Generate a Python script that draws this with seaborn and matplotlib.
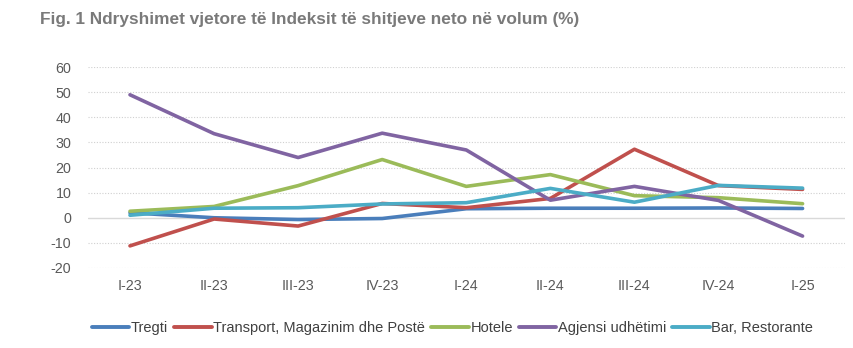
import matplotlib
matplotlib.use("Agg")
import matplotlib.pyplot as plt
import seaborn as sns
import pandas as pd
from matplotlib.lines import Line2D

quarters = ["I-23", "II-23", "III-23", "IV-23", "I-24", "II-24", "III-24", "IV-24", "I-25"]
tregti = [2.0, 0.0, -0.7, -0.3, 3.6, 3.8, 3.8, 3.9, 3.7]
transport = [-11.2, -0.5, -3.3, 5.7, 4.0, 7.7, 27.3, 12.8, 11.3]
hotele = [2.6, 4.5, 12.8, 23.2, 12.5, 17.2, 8.8, 8.0, 5.6]
agjensi = [49.0, 33.5, 24.0, 33.7, 27.0, 7.0, 12.5, 6.9, -7.3]
bar = [1.0, 3.8, 4.0, 5.5, 6.0, 11.7, 6.2, 12.9, 11.8]

names = ["Tregti", "Transport, Magazinim dhe Postë", "Hotele", "Agjensi udhëtimi", "Bar, Restorante"]
series = [tregti, transport, hotele, agjensi, bar]
colors = ["#4a7ebb", "#c0504d", "#9bbb59", "#8064a2", "#4bacc6"]

rows = []
for n, vals in zip(names, series):
    for i, (q, v) in enumerate(zip(quarters, vals)):
        rows.append({"idx": i, "quarter": q, "value": v, "series": n})
df = pd.DataFrame(rows)

sns.set_theme(style="white")
plt.rcParams["font.family"] = ["Liberation Sans", "DejaVu Sans"]
plt.rcParams["axes.unicode_minus"] = False

fig = plt.figure(figsize=(8.54, 3.48), dpi=100)
ax = fig.add_axes([0.103, 0.230, 0.886, 0.577])

sns.lineplot(data=df, x="idx", y="value", hue="series", hue_order=names,
             palette=colors, linewidth=2.6, ax=ax, legend=False, sort=False)

ax.set_xlim(-0.5, 8.5)
ax.set_ylim(-20, 60)
ax.set_yticks(range(-20, 61, 10))
ax.set_xticks(range(len(quarters)))
ax.set_xticklabels(quarters)
ax.set_xlabel("")
ax.set_ylabel("")
for s in ax.spines.values():
    s.set_visible(False)
for y in range(-20, 61, 10):
    if y == 0:
        ax.axhline(0, color="#d9d9d9", lw=1.0, zorder=0.5)
    else:
        ax.axhline(y, color="#d0d0d0", lw=0.8, ls=(0, (1, 1.5)), zorder=0.5)
ax.tick_params(axis="both", length=0, labelsize=10.3, colors="#595959", pad=8)
ax.tick_params(axis="y", pad=12)

handles = [Line2D([0], [0], color=c, lw=2.8) for c in colors]
fig.legend(handles, names, loc="center", bbox_to_anchor=(0.530, 0.057), ncol=5,
           frameon=False, fontsize=10.5, handlelength=2.55, handletextpad=0.12,
           columnspacing=0.42, labelcolor="#404040")

fig.text(0.047, 0.945, "Fig. 1 Ndryshimet vjetore të Indeksit të shitjeve neto në volum (%)",
         fontsize=12.4, fontweight="bold", color="#7a7a7a", va="center", ha="left")

fig.savefig("out.png", dpi=100)
